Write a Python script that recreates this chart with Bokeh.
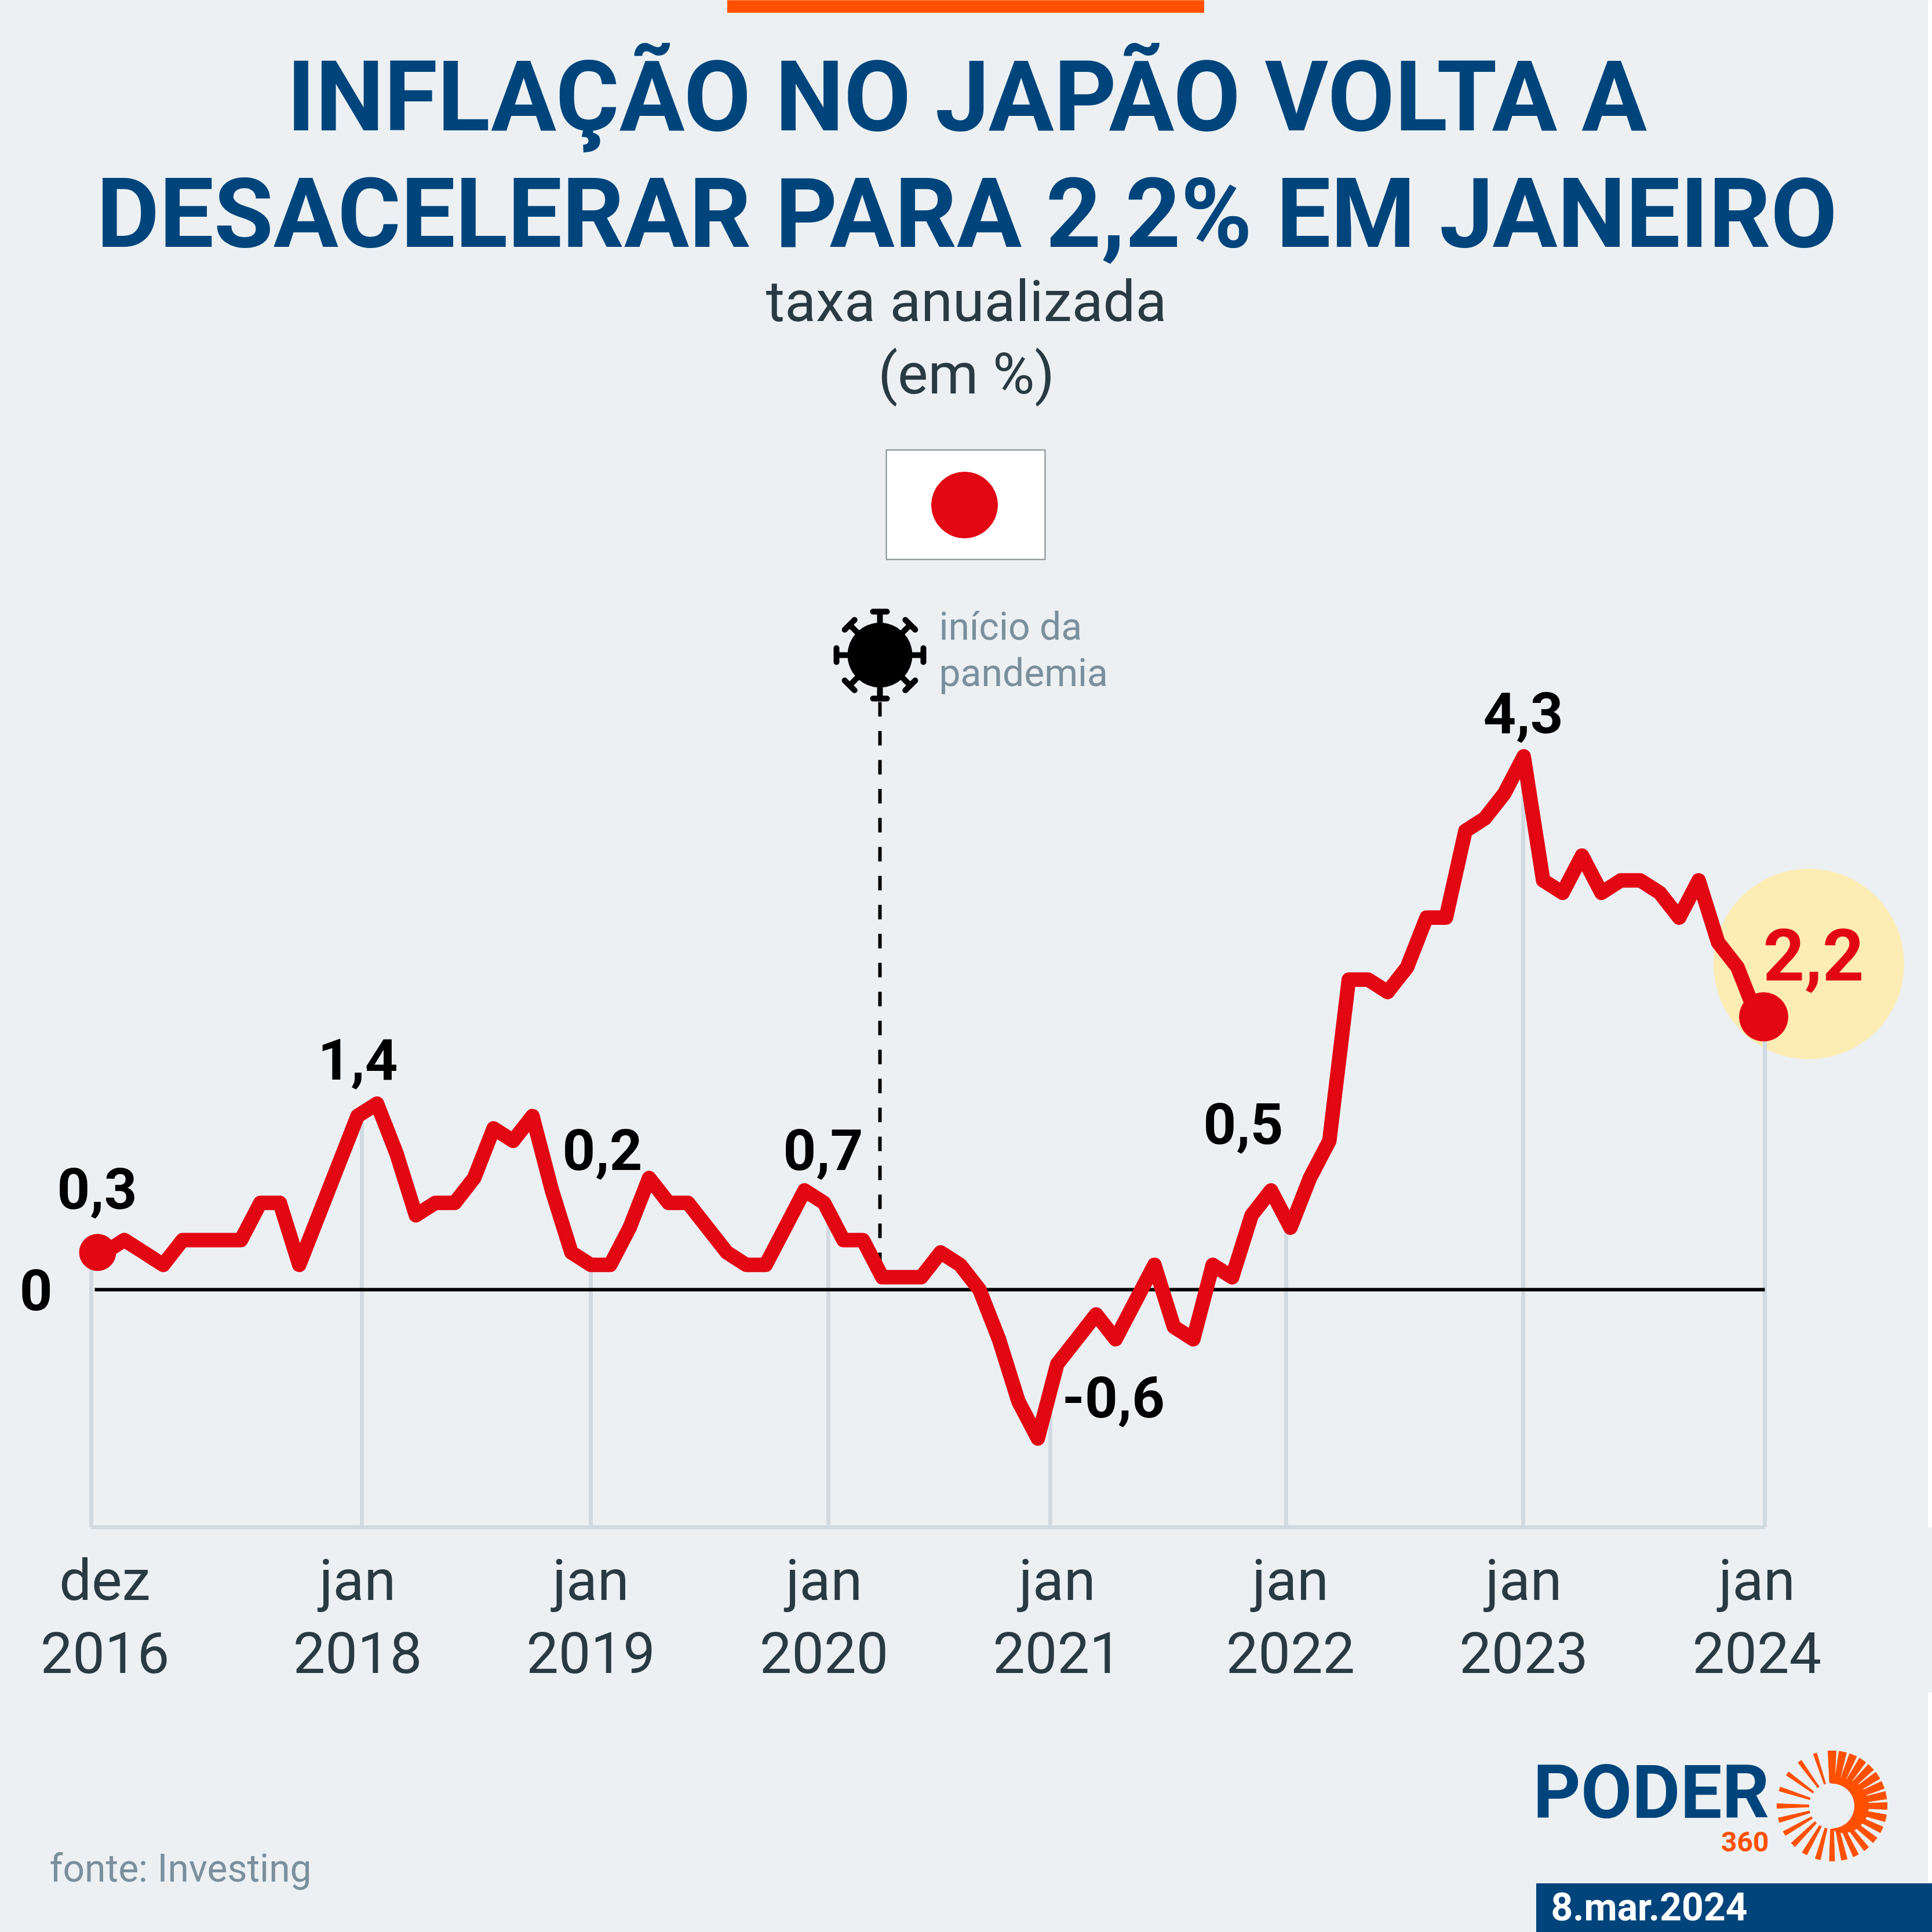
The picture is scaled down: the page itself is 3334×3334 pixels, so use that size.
import numpy as np
from bokeh.core.properties import value
from bokeh.embed import file_html
from bokeh.layouts import column
from bokeh.models import ColumnDataSource, FixedTicker, Label, Range1d
from bokeh.plotting import figure
from bokeh.resources import INLINE

# ---- data ----
inflation = [0.3, 0.4, 0.3, 0.2, 0.4, 0.4, 0.4, 0.4, 0.7, 0.7, 0.2, 0.6, 1.0,
             1.4, 1.5, 1.1, 0.6, 0.7, 0.7, 0.9, 1.3, 1.2, 1.4, 0.8, 0.3,
             0.2, 0.2, 0.5, 0.9, 0.7, 0.7, 0.5, 0.3, 0.2, 0.2, 0.5, 0.8,
             0.7, 0.4, 0.4, 0.1, 0.1, 0.1, 0.3, 0.2, 0.0, -0.4, -0.9, -1.2,
             -0.6, -0.4, -0.2, -0.4, -0.1, 0.2, -0.3, -0.4, 0.2, 0.1, 0.6, 0.8,
             0.5, 0.9, 1.2, 2.5, 2.5, 2.4, 2.6, 3.0, 3.0, 3.7, 3.8, 4.0,
             4.3, 3.3, 3.2, 3.5, 3.2, 3.3, 3.3, 3.2, 3.0, 3.3, 2.8, 2.6, 2.2]
tick_months = [0, 13, 25, 37, 49, 61, 73, 85]
tick_labels = ["dez\n2016", "jan\n2018", "jan\n2019", "jan\n2020", "jan\n2021", "jan\n2022", "jan\n2023", "jan\n2024"]
value_labels = ["0,3", "1,4", "0,2", "0,7", "0,5", "-0,6", "4,3"]
title_lines = ["INFLAÇÃO NO JAPÃO VOLTA A", "DESACELERAR PARA 2,2% EM JANEIRO"]
subtitle_lines = ["taxa anualizada", "(em %)"]

# ---- geometry (page pixels) ----
BG, NAVY, RED, ORANGE, GRID, GREY, INK = "#ecf0f3", "#00447c", "#e30613", "#ff5000", "#d0dae0", "#7b8f9c", "#2a3a42"
X0, DX, Y0, DY = 180.5, 33.54, 2225.0, 214.0
LEFT, RIGHT, TOP, AXIS_Y, SPLIT, BOTTOM = 80, 3334, 0, 2635, 2920, 3334
BASE_FIX = 0.36
to_month = lambda px: (px - X0) / DX
grid_px = [157, 624, 1019, 1429, 1812, 2219, 2628, 3045]
label_px = [167, 617, 1039, 1420, 2145, 1921, 2628]
label_base = [2086, 1863, 2019, 2019, 1974, 2446, 1265]

p = figure(frame_width=RIGHT - LEFT, frame_height=AXIS_Y - TOP, min_border_left=LEFT, min_border_right=0,
           min_border_top=0, min_border_bottom=SPLIT - AXIS_Y,
           x_range=Range1d(to_month(LEFT), to_month(RIGHT)),
           y_range=Range1d((Y0 - AXIS_Y) / DY, (Y0 - TOP) / DY),
           output_backend="svg", toolbar_location=None,
           background_fill_color=BG, border_fill_color=BG, outline_line_color=None)
p.extra_x_ranges["px"] = Range1d(LEFT, RIGHT)
p.extra_y_ranges["px"] = Range1d(AXIS_Y, TOP)
p.grid.visible = False

# axes
p.xaxis.ticker = FixedTicker(ticks=tick_months)
p.xaxis.major_label_overrides = dict(zip(tick_months, tick_labels))
p.xaxis.bounds = (to_month(grid_px[0]), to_month(grid_px[-1]))
p.xaxis.axis_line_color = GRID
p.xaxis.axis_line_width = 7
p.xaxis.major_tick_line_color = None
p.xaxis.minor_tick_line_color = None
p.xaxis.major_label_standoff = 27
p.xaxis.major_label_text_font = "Roboto"
p.xaxis.major_label_text_font_size = "99px"
p.xaxis.major_label_text_color = INK
p.xaxis.major_label_text_line_height = 1.09
p.yaxis.ticker = FixedTicker(ticks=[0])
p.yaxis.axis_line_color = None
p.yaxis.major_tick_line_color = None
p.yaxis.minor_tick_line_color = None
p.yaxis.major_label_standoff = -16
p.yaxis.major_label_text_font = "Roboto"
p.yaxis.major_label_text_font_style = "bold"
p.yaxis.major_label_text_font_size = "99px"
p.yaxis.major_label_text_color = "#000000"


def txt(fig, x, y, s, size, color=INK, bold=False, align="center"):
    fig.text(x=[x], y=[y - BASE_FIX * size], text=[s], text_font=value("Roboto"), text_font_size=f"{size}px",
             text_font_style="bold" if bold else "normal", text_color=color, text_align=align,
             text_baseline="alphabetic", x_range_name="px", y_range_name="px")


# header
p.quad(left=[1255], right=[2077], top=[TOP], bottom=[21], color=ORANGE, x_range_name="px", y_range_name="px")
p.quad(left=[3327], right=[RIGHT], top=[TOP], bottom=[AXIS_Y], color="#ffffff", x_range_name="px", y_range_name="px")
for s, b, size in zip(title_lines, [227, 429], [168, 167]):
    txt(p, 1668, b, s, size, NAVY, True)
for s, b in zip(subtitle_lines, [555, 680]):
    txt(p, 1667, b, s, 99)

# flag
p.quad(left=[1529], right=[1803], top=[776], bottom=[965], fill_color="#ffffff", line_color="#7f8c8d", line_width=2,
       x_range_name="px", y_range_name="px")
p.circle(x=[1664], y=[871], radius=57, color=RED, x_range_name="px", y_range_name="px")

# highlight
p.circle(x=[3121], y=[1663], radius=164, color="#feecb5", x_range_name="px", y_range_name="px")

# grid stems, reaching up to the line
months = np.arange(len(inflation))
grid_months = [to_month(g) for g in grid_px]
grid_tops = np.interp(grid_months, months, inflation)
p.segment(x0=grid_months, x1=grid_months, y0=[(Y0 - AXIS_Y) / DY] * 8, y1=grid_tops, line_color=GRID, line_width=7)

# zero line
p.segment(x0=[to_month(163)], x1=[grid_months[-1]], y0=[0], y1=[0], line_color="#000000", line_width=6)

# pandemic marker
p.segment(x0=[1518], x1=[1518], y0=[1211], y1=[2200], line_color="#000000", line_width=6, line_dash="25 25",
          x_range_name="px", y_range_name="px")
vx, vy = 1518, 1130
p.circle(x=[vx], y=[vy], radius=55.5, color="#000000", x_range_name="px", y_range_name="px")
ang = np.deg2rad(np.arange(0, 360, 45))
reach = np.where(np.arange(8) % 2 == 0, 75, 74)
ex, ey = vx + reach * np.sin(ang), vy - reach * np.cos(ang)
p.segment(x0=[vx] * 8, y0=[vy] * 8, x1=ex, y1=ey, line_color="#000000", line_width=10,
          x_range_name="px", y_range_name="px")
p.segment(x0=ex - 12 * np.cos(ang), y0=ey - 12 * np.sin(ang), x1=ex + 12 * np.cos(ang), y1=ey + 12 * np.sin(ang),
          line_color="#000000", line_width=10, line_cap="round", x_range_name="px", y_range_name="px")
txt(p, 1620, 1105, "início da", 66, GREY, align="left")
txt(p, 1620, 1185, "pandemia", 66, GREY, align="left")

# series
p.line(months, inflation, line_color=RED, line_width=25, line_join="round")
dots = ColumnDataSource(dict(x=[to_month(168), to_month(3043)], y=[inflation[0], inflation[-1]], s=[63, 84]))
p.scatter("x", "y", size="s", color=RED, source=dots)

for s, x, b in zip(value_labels, label_px, label_base):
    txt(p, x, b, s, 99, "#000000", True)
txt(p, 3129, 1692, "2,2", 125, RED, True)

# ---- footer ----
f = figure(frame_width=RIGHT - LEFT, frame_height=BOTTOM - SPLIT, min_border_left=LEFT, min_border_right=0,
           min_border_top=0, min_border_bottom=0,
           x_range=Range1d(LEFT, RIGHT), y_range=Range1d(BOTTOM, SPLIT),
           x_axis_type=None, y_axis_type=None, output_backend="svg", toolbar_location=None,
           background_fill_color=BG, border_fill_color=BG, outline_line_color=None)
f.grid.visible = False
f.extra_x_ranges["px"] = Range1d(LEFT, RIGHT)
f.extra_y_ranges["px"] = Range1d(BOTTOM, SPLIT)

f.add_layout(Label(x=85, y=3248 - BASE_FIX * 66, text="fonte: Investing", text_font="Roboto", text_font_size="66px",
                   text_color=GREY, text_align="left", text_baseline="alphabetic"))
f.quad(left=[3327], right=[RIGHT], top=[SPLIT], bottom=[3250], color="#ffffff", x_range_name="px", y_range_name="px")
f.quad(left=[2651], right=[RIGHT], top=[3250], bottom=[BOTTOM], color=NAVY, x_range_name="px", y_range_name="px")
txt(f, 2676, 3315, "8.mar.2024", 66, "#ffffff", True, "left")
txt(f, 2645, 3139, "PODER", 128, NAVY, True, "left")
txt(f, 3052, 3195, "360", 48, ORANGE, True, "right")

# sun mark
cx, cy, r_in, r_out = 3161, 3116, 39, 95
ray_deg = list(np.arange(0, 90, 11.25)) + [90, 102.9, 115.7, 128.6, 141.4, 154.3, 167.1, 180, 195, 210, 225, 240, 255, 270, 288, 306, 324, 342]
ray_w = [14, 13, 13, 13, 13, 13, 13, 13, 12, 12, 11, 11, 10, 10, 10, 9, 9, 9, 9, 8, 8, 8, 7, 7, 7, 6, 6]
xs, ys = [], []
for d, w in zip(ray_deg, ray_w):
    t = np.deg2rad(d)
    ri = r_in + 1
    ux, uy, nx, ny = np.sin(t), -np.cos(t), np.cos(t), np.sin(t)
    wi = w * (0.45 if 190 < d < 350 else 0.6)
    xs.append([cx + ri * ux - wi / 2 * nx, cx + r_out * ux - w / 2 * nx, cx + r_out * ux + w / 2 * nx, cx + ri * ux + wi / 2 * nx])
    ys.append([cy + ri * uy - wi / 2 * ny, cy + r_out * uy - w / 2 * ny, cy + r_out * uy + w / 2 * ny, cy + ri * uy + wi / 2 * ny])
f.patches(xs, ys, color=ORANGE, x_range_name="px", y_range_name="px")
arc = np.deg2rad(np.arange(-2, 182, 4))
ro = r_in + 24 * np.sin(np.clip(arc, 0, np.pi)) ** 0.8
ring_x = list(cx + ro * np.sin(arc)) + list(cx + r_in * np.sin(arc[::-1]))
ring_y = list(cy - ro * np.cos(arc)) + list(cy - r_in * np.cos(arc[::-1]))
f.patch(ring_x, ring_y, color=ORANGE, x_range_name="px", y_range_name="px")

layout = column(p, f, spacing=0)
layout.styles = {"background-color": BG}
open("out.html", "w").write(file_html(layout, INLINE))
